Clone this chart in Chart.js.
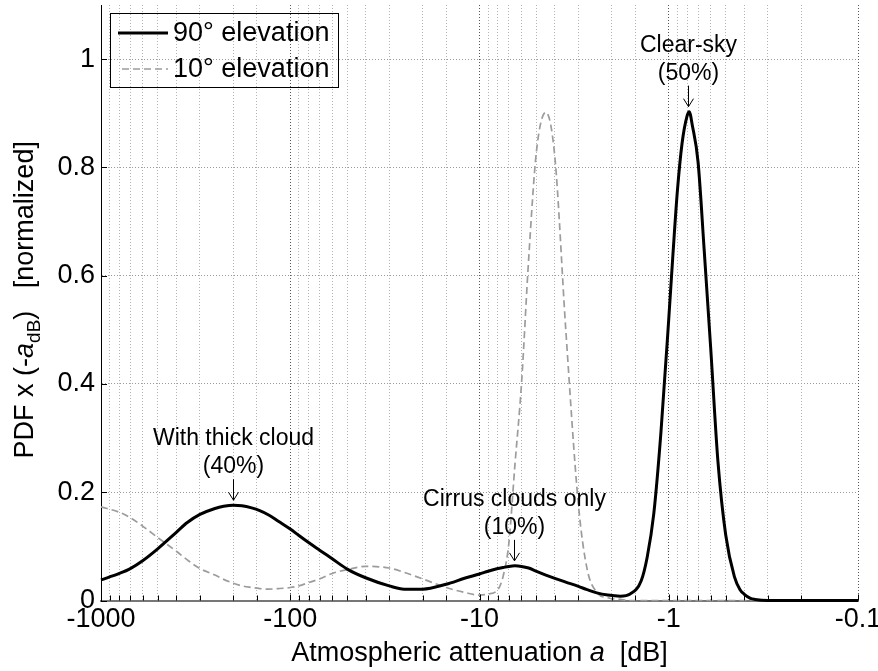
<!DOCTYPE html>
<html><head><meta charset="utf-8">
<script src="https://cdn.jsdelivr.net/npm/chart.js@4"></script>
<style>html,body{margin:0;padding:0;background:#fff;}#wrap{width:878px;height:671px;}</style>
</head><body><div id="wrap"><canvas id="c" width="878" height="671"></canvas></div>
<script>
// ---- data (attenuation a in dB, negative) ----
const attenuationDb = [-1000,-800,-700,-600,-500,-400,-350,-300,-250,-225,-200,-180,-160,-145,-130,-115,-100,-90,-80,-70,-60,-50,-40,-30,-25,-20,-15,-12,-10,-9,-8,-7.5,-7,-6.5,-6,-5.5,-5,-4.46,-4,-3.5,-3,-2.7,-2.4,-2.1,-1.8,-1.6,-1.4,-1.3,-1.2,-1.1,-1.0,-0.95,-0.9,-0.85,-0.8,-0.78,-0.75,-0.7,-0.65,-0.6,-0.55,-0.5,-0.45,-0.42,-0.4,-0.37,-0.35,-0.3,-0.2,-0.1];
const pdf90 = [0.038,0.050,0.059,0.074,0.096,0.126,0.144,0.159,0.170,0.174,0.176,0.175,0.171,0.166,0.158,0.146,0.132,0.120,0.107,0.093,0.077,0.058,0.042,0.027,0.021,0.021,0.030,0.041,0.049,0.054,0.059,0.061,0.063,0.064,0.063,0.060,0.054,0.047,0.041,0.034,0.026,0.020,0.014,0.010,0.008,0.012,0.036,0.080,0.16,0.31,0.52,0.64,0.757,0.845,0.895,0.903,0.877,0.81,0.648,0.465,0.258,0.121,0.044,0.02,0.012,0.004,0.002,0,0,0];
const pdf10 = [0.173,0.163,0.153,0.137,0.116,0.091,0.075,0.059,0.047,0.039,0.032,0.027,0.024,0.022,0.021,0.022,0.024,0.027,0.033,0.040,0.050,0.057,0.063,0.060,0.052,0.040,0.024,0.015,0.010,0.012,0.020,0.045,0.105,0.25,0.40,0.63,0.83,0.902,0.82,0.50,0.176,0.058,0.015,0.005,0.002,0,0,0,0,0,0,0,0,0,0,0,0,0,0,0,0,0,0,0,0,0,0,0,0,0];
const seriesNames = ['90\u00B0 elevation','10\u00B0 elevation'];
const xTickValues = [1000,100,10,1,0.1];
const xTickLabels = ['-1000','-100','-10','-1','-0.1'];
const yTickValues = [0,0.2,0.4,0.6,0.8,1];
const yTickLabels = ['0','0.2','0.4','0.6','0.8','1'];
const annotLine1 = ['Clear-sky','With thick cloud','Cirrus clouds only'];
const annotLine2 = ['(50%)','(40%)','(10%)'];
const annotA = [-0.79,-200,-6.6];
const annotPeak = [0.903,0.176,0.064];

const FAM = "'Liberation Sans', Arial, Helvetica, sans-serif";
const isPow10 = v => Math.abs(Math.log10(v) - Math.round(Math.log10(v))) < 1e-6;

const deco = {
  id: 'deco',
  afterDraw(chart) {
    const ctx = chart.ctx, xs = chart.scales.x, ys = chart.scales.y, A = chart.chartArea;
    ctx.save();
    // inward tick marks
    ctx.strokeStyle = '#000'; ctx.lineWidth = 1; ctx.setLineDash([]);
    xs.ticks.forEach(t => {
      const px = Math.round(xs.getPixelForValue(t.value)) + 0.5;
      const len = isPow10(t.value) ? 6 : 5;
      ctx.beginPath(); ctx.moveTo(px, A.bottom); ctx.lineTo(px, A.bottom - len); ctx.stroke();
    });
    ys.ticks.forEach(t => {
      const py = Math.round(ys.getPixelForValue(t.value)) + 0.5;
      ctx.beginPath(); ctx.moveTo(A.left, py); ctx.lineTo(A.left + 6, py); ctx.stroke();
    });
    // legend
    const ds = chart.data.datasets;
    const lx = A.left + 9, ly = A.top + 8;
    ctx.strokeStyle = '#000'; ctx.lineWidth = 1;
    ctx.strokeRect(Math.round(lx) + 0.5, Math.round(ly) + 0.5, 228, 74);
    const rows = [ly + 20, ly + 56];
    ds.forEach((d, i) => {
      ctx.save();
      ctx.strokeStyle = d.borderColor; ctx.lineWidth = d.borderWidth;
      ctx.setLineDash(d.borderDash || []);
      ctx.beginPath(); ctx.moveTo(lx + (i ? 12 : 8), rows[i]); ctx.lineTo(lx + 58, rows[i]); ctx.stroke();
      ctx.restore();
      ctx.fillStyle = '#000'; ctx.font = '27px ' + FAM; ctx.textBaseline = 'middle'; ctx.textAlign = 'left';
      ctx.fillText(d.label, lx + 63, rows[i] + 1);
    });
    // annotations
    ctx.font = '23px ' + FAM; ctx.textAlign = 'center'; ctx.textBaseline = 'alphabetic'; ctx.fillStyle = '#000';
    annotA.forEach((a, i) => {
      const px = Math.round(xs.getPixelForValue(-a)) + 0.5;
      const tip = ys.getPixelForValue(annotPeak[i]) - 5;
      const top = tip - 21;
      ctx.strokeStyle = '#000'; ctx.lineWidth = 1;
      ctx.beginPath(); ctx.moveTo(px, top); ctx.lineTo(px, tip); ctx.stroke();
      ctx.beginPath(); ctx.moveTo(px - 5, tip - 8); ctx.lineTo(px, tip); ctx.lineTo(px + 5, tip - 8); ctx.stroke();
      ctx.fillText(annotLine2[i], px, top - 6);
      ctx.fillText(annotLine1[i], px, top - 34);
    });
    // x axis title
    const xParts = [['Atmospheric attenuation ', 'normal', 27, 0], ['a', 'italic', 27, 0], ['  [dB]', 'normal', 27, 0]];
    drawParts(ctx, xParts, (A.left + A.right) / 2, 661);
    // y axis title (rotated)
    ctx.save();
    ctx.translate(33, (A.top + A.bottom) / 2 - 3);
    ctx.rotate(-Math.PI / 2);
    const yParts = [['PDF x (-', 'normal', 27, 0], ['a', 'italic', 27, 0], ['dB', 'normal', 19, 7], [')   [normalized]', 'normal', 27, 0]];
    drawParts(ctx, yParts, 0, 0);
    ctx.restore();
    ctx.restore();
  }
};
function drawParts(ctx, parts, cx, by) {
  let total = 0;
  parts.forEach(p => { ctx.font = p[1] + ' ' + p[2] + 'px ' + FAM; total += ctx.measureText(p[0]).width; });
  let x = cx - total / 2;
  ctx.textAlign = 'left'; ctx.textBaseline = 'alphabetic'; ctx.fillStyle = '#000';
  parts.forEach(p => {
    ctx.font = p[1] + ' ' + p[2] + 'px ' + FAM;
    ctx.fillText(p[0], x, by + p[3]);
    x += ctx.measureText(p[0]).width;
  });
}

new Chart(document.getElementById('c'), {
  type: 'line',
  data: {
    datasets: [
      { label: seriesNames[0], data: attenuationDb.map((a, i) => ({ x: -a, y: pdf90[i] })),
        borderColor: '#000', borderWidth: 3, pointRadius: 0, fill: false, cubicInterpolationMode: 'monotone', clip: 6 },
      { label: seriesNames[1], data: attenuationDb.map((a, i) => ({ x: -a, y: pdf10[i] })),
        borderColor: '#9c9c9c', borderWidth: 1.7, borderDash: [7, 4], pointRadius: 0, fill: false, cubicInterpolationMode: 'monotone', clip: 6 }
    ]
  },
  options: {
    responsive: false, animation: false, devicePixelRatio: 1,
    layout: { padding: { top: 5, right: 20, left: 0, bottom: 0 } },
    plugins: { legend: { display: false }, tooltip: { enabled: false } },
    scales: {
      x: {
        type: 'logarithmic', reverse: true, min: 0.1, max: 1000,
        afterFit(s) { s.height = 70.5; s.paddingLeft = 0; s.paddingRight = 0; },
        ticks: {
          autoSkip: false, maxRotation: 0, minRotation: 0, padding: 3, color: '#000',
          font: { family: FAM, size: 27 },
          callback(v) { const i = xTickValues.findIndex(t => Math.abs(t - v) / t < 1e-6); return i >= 0 ? xTickLabels[i] : ''; }
        },
        grid: { drawTicks: false, lineWidth: 1, color: c => (c.tick && isPow10(c.tick.value)) ? '#555' : '#b4b4b4' },
        border: { display: true, color: '#777', width: 2, dash: [1, 2] }
      },
      y: {
        min: 0, max: 1.1,
        afterFit(s) { s.width = 101; s.paddingTop = 0; s.paddingBottom = 0; },
        ticks: {
          stepSize: 0.2, includeBounds: false, padding: 6, color: '#000',
          font: { family: FAM, size: 27 },
          callback(v) { const i = yTickValues.findIndex(t => Math.abs(t - v) < 1e-6); return i >= 0 ? yTickLabels[i] : ''; }
        },
        grid: { drawTicks: false, lineWidth: 1, color: '#9a9a9a' },
        border: { display: true, color: '#000', width: 1, dash: [1, 2] }
      }
    }
  },
  plugins: [deco]
});
</script></body></html>
